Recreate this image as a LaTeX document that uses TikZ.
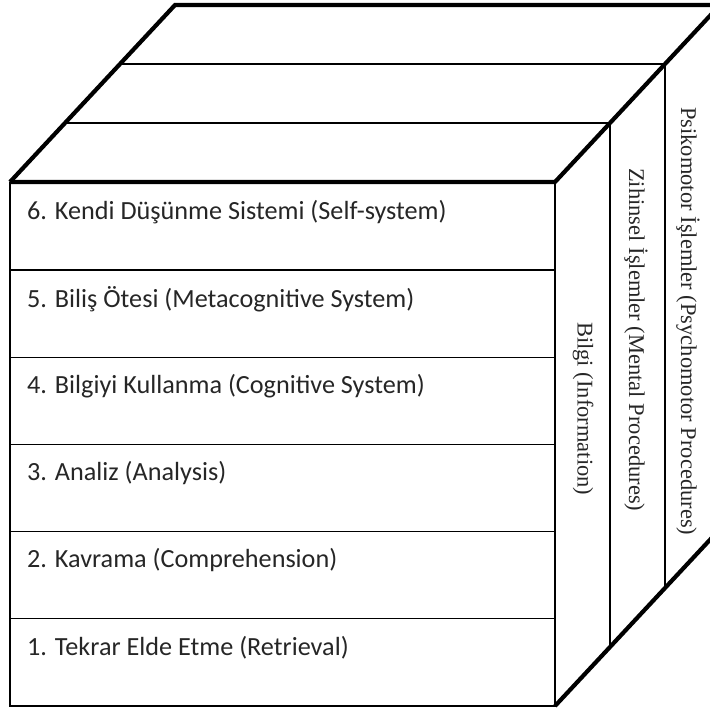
\documentclass[tikz,border=0pt]{standalone}
\usepackage{fontspec}
\newfontfamily\layerFont{Carlito}
\newfontfamily\sideFont{Liberation Serif}
\usetikzlibrary{positioning,calc}
\tikzset{%
  cubeEdge/.style={%
    line width=4.2pt,
    line join=miter
  },
  frontEdge/.style={%
    line width=2.6pt
  },
  layerLine/.style={%
    line width=1.2pt
  },
  layerText/.style={%
    anchor=west,
    inner sep=0pt,
    text=black!85,
    font=\layerFont\fontsize{26.2}{30}\selectfont
  },
  sideText/.style={%
    rotate=-90,
    anchor=west,
    inner sep=0pt,
    text=black!85,
    font=\sideFont\fontsize{22.5}{26}\selectfont
  }
}

\begin{document}
\begin{tikzpicture}[x=1pt, y=-1pt]
            \useasboundingbox (0,0) rectangle (710,710);
            \clip (0,0) rectangle (710,710);

            % Corners of the cube
            \coordinate (frontTL) at (10,182);
            \coordinate (frontTR) at (555,182);
            \coordinate (frontBL) at (10,706);
            \coordinate (frontBR) at (555,706);
            \coordinate (backTL) at (175,5);
            \coordinate (backTR) at (720,5);
            \coordinate (backBR) at (720,529);

            % Front face with six layers
            \draw[frontEdge] (frontTL) -- (frontBL) -- (frontBR) -- (frontTR);
            \draw[layerLine] (10,270) -- (555,270);
            \draw[layerLine] (10,357.5) -- (555,357.5);
            \draw[layerLine] (10,444.5) -- (555,444.5);
            \draw[layerLine] (10,531.5) -- (555,531.5);
            \draw[layerLine] (10,618.7) -- (555,618.7);

            \node[layerText] (layer6) at (27,212) {6. Kendi Düşünme Sistemi (Self-system)};
            \node[layerText] (layer5) at (27,299.5) {5. Biliş Ötesi (Metacognitive System)};
            \node[layerText] (layer4) at (27,386.5) {4. Bilgiyi Kullanma (Cognitive System)};
            \node[layerText] (layer3) at (27,473.5) {3. Analiz (Analysis)};
            \node[layerText] (layer2) at (27,560.5) {2. Kavrama (Comprehension)};
            \node[layerText] (layer1) at (27,647.7) {1. Tekrar Elde Etme (Retrieval)};

            % Top face split in three
            \draw[layerLine] ($(frontTL)!1/3!(backTL)$) -- ($(frontTR)!1/3!(backTR)$);
            \draw[layerLine] ($(frontTL)!2/3!(backTL)$) -- ($(frontTR)!2/3!(backTR)$);

            % Right face split in three
            \draw[layerLine] ($(frontTR)!1/3!(backTR)$) -- ($(frontBR)!1/3!(backBR)$);
            \draw[layerLine] ($(frontTR)!2/3!(backTR)$) -- ($(frontBR)!2/3!(backBR)$);

            \node[sideText] (info) at (583,322) {Bilgi (Information)};
            \node[sideText] (mental) at (636,168) {Zihinsel İşlemler (Mental Procedures)};
            \node[sideText] (motor) at (688,107) {Psikomotor İşlemler (Psychomotor Procedures)};

            % Outer edges
            \draw[cubeEdge] (frontTL) -- (backTL) -- (backTR);
            \draw[cubeEdge] (frontTL) -- (frontTR) -- (backTR);
            \draw[cubeEdge] (frontBR) -- (backBR);
        \end{tikzpicture}
\end{document}
